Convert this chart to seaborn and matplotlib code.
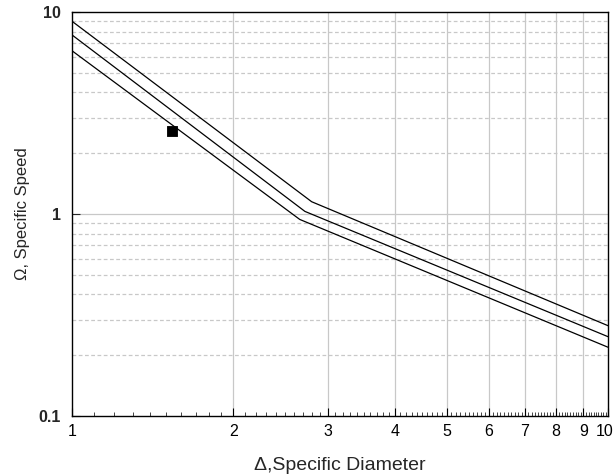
import numpy as np
import pandas as pd
import matplotlib
matplotlib.use("Agg")
import matplotlib.pyplot as plt
import matplotlib.transforms as mtransforms
import seaborn as sns
from matplotlib.ticker import FixedLocator, NullFormatter, FixedFormatter

# Data
upper_x = [1.0, 2.80, 10.0]
upper_y = [9.0, 1.15, 0.28]
mid_x = [1.0, 2.72, 10.0]
mid_y = [7.7, 1.03, 0.247]
low_x = [1.0, 2.66, 10.0]
low_y = [6.43, 0.94, 0.219]
point_x = [1.535]
point_y = [2.58]

x_ticks = [1, 2, 3, 4, 5, 6, 7, 8, 9, 10]
x_tick_labels = ["1", "2", "3", "4", "5", "6", "7", "8", "9", "10"]
y_ticks = [0.1, 1, 10]
y_tick_labels = ["0.1", "1", "10"]

sns.set_style("white")
plt.rcParams['font.family'] = ['Liberation Sans', 'DejaVu Sans']

fig = plt.figure(figsize=(6.15, 4.75), dpi=100)
ax = fig.add_axes([72/615, 1-416/475, (608-72)/615, (416-12)/475])

ax.set_xscale("log")
ax.set_yscale("log")
ax.set_xlim(1, 10)
ax.set_ylim(0.1, 10)

# gridlines
grid_c = "#c8c8c8"
for xv in x_ticks[1:-1]:
    ax.axvline(xv, color=grid_c, lw=0.9, zorder=0)
ax.axhline(1, color=grid_c, lw=0.9, zorder=0)
y_minor = [m * d for d in (0.1, 1) for m in range(2, 10)]
for yv in y_minor:
    ax.axhline(yv, color=grid_c, lw=0.9, ls=(0, (3, 2)), zorder=0)

for xs, ys in [(upper_x, upper_y), (mid_x, mid_y), (low_x, low_y)]:
    df = pd.DataFrame({"x": xs, "y": ys})
    sns.lineplot(data=df, x="x", y="y", ax=ax, color="black", lw=0.9, sort=False, zorder=3)

sns.scatterplot(x=point_x, y=point_y, ax=ax, marker="s", s=60, color="black",
                edgecolor="black", zorder=4)

ax.xaxis.set_major_locator(FixedLocator(x_ticks))
ax.xaxis.set_major_formatter(FixedFormatter(x_tick_labels))
x_minor = [round(v, 1) for v in np.arange(1.1, 10.0, 0.1) if abs(v - round(v)) > 1e-6]
ax.xaxis.set_minor_locator(FixedLocator(x_minor))
ax.xaxis.set_minor_formatter(NullFormatter())
ax.yaxis.set_major_locator(FixedLocator(y_ticks))
ax.yaxis.set_major_formatter(FixedFormatter(y_tick_labels))
ax.yaxis.set_minor_locator(FixedLocator([]))

ax.tick_params(axis="x", which="major", direction="in", length=6, width=0.8,
               labelsize=11.5, pad=6, colors="black")
ax.tick_params(axis="x", which="minor", direction="in", length=3, width=0.6)
ax.tick_params(axis="y", which="major", direction="in", length=6, width=0.8,
               labelsize=11.5, pad=8)
ax.tick_params(axis="x", which="both", bottom=True, top=False)
ax.tick_params(axis="y", which="both", left=True, right=False)
for lab in ax.get_yticklabels():
    lab.set_fontweight("bold")
last = ax.get_xticklabels()[-1]
last.set_transform(last.get_transform() +
                   mtransforms.ScaledTranslation(-3/100, 0, fig.dpi_scale_trans))

for sp in ax.spines.values():
    sp.set_color("black")
    sp.set_linewidth(1.0)
    sp.set_visible(True)

ax.set_xlabel("\u0394,Specific Diameter", fontsize=14, labelpad=13)
ax.set_ylabel("\u03a9, Specific Speed", fontsize=12, labelpad=6)

fig.savefig("out.png", dpi=100)
